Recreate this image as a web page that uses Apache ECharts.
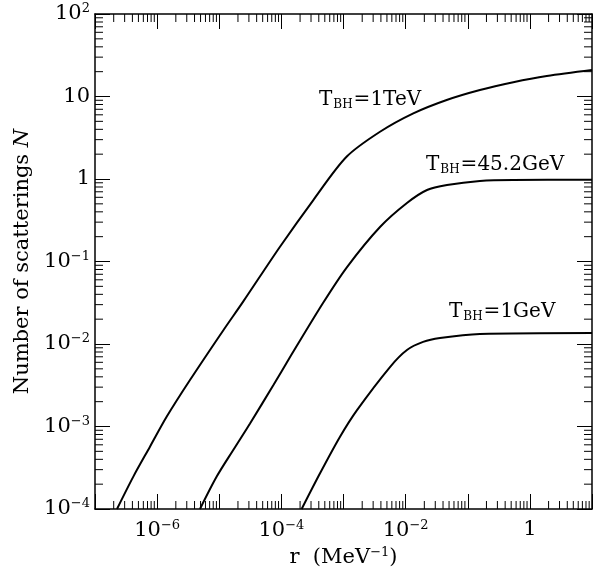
<!DOCTYPE html>
<html>
<head>
<meta charset="utf-8">
<script src="https://cdn.jsdelivr.net/npm/echarts@6/dist/echarts.min.js"></script>
<style>
html, body { margin: 0; padding: 0; background: #fff; }
#chart { width: 608px; height: 570px; }
</style>
</head>
<body>
<div id="chart"></div>
<script>
// curve readings: r (MeV^-1) and number of scatterings
var rTeV = [2.26e-7, 4.14e-7, 7.67e-7, 1.43e-6, 3.38e-6, 1.15e-5, 2.41e-5, 9.5e-5, 3.27e-4, 1.12e-3, 3.87e-3, 1.33e-2, 4.58e-2, 0.157, 0.541, 1.87, 10];
var nTeV = [1e-4, 2.47e-4, 5.69e-4, 1.32e-3, 3.66e-3, 1.45e-2, 3.24e-2, 0.151, 0.556, 1.86, 3.74, 6.25, 9.08, 12.0, 14.9, 17.7, 20.9];

var rMid = [4.9e-6, 9.1e-6, 1.68e-5, 3.13e-5, 7.41e-5, 1.38e-4, 4.68e-4, 1.14e-3, 3.87e-3, 1.05e-2, 2.21e-2, 4.63e-2, 0.157, 0.535, 10];
var nMid = [1e-4, 2.47e-4, 5.19e-4, 1.09e-3, 3.16e-3, 6.95e-3, 3.14e-2, 8.57e-2, 0.262, 0.512, 0.736, 0.845, 0.946, 0.973, 0.977];

var rGeV = [2.12e-4, 4.19e-4, 8.79e-4, 1.65e-3, 5.6e-3, 1.05e-2, 1.91e-2, 3.57e-2, 0.157, 10];
var nGeV = [1e-4, 2.71e-4, 7.52e-4, 1.58e-3, 5.26e-3, 8.45e-3, 1.06e-2, 1.18e-2, 1.32e-2, 1.36e-2];

var curveNames = ['1TeV', '45.2GeV', '1GeV'];

var X_MIN = 1e-7, X_MAX = 10;
var Y_MIN = 1e-4, Y_MAX = 100;
var FONT = 'DejaVu Serif';

function pairs(xs, ys) {
    var out = [];
    for (var i = 0; i < xs.length; i++) out.push([xs[i], ys[i]]);
    return out;
}

// minor tick values 2..9 in every decade
function minorValues(loExp, hiExp) {
    var out = [];
    for (var e = loExp; e < hiExp; e++) {
        for (var k = 2; k <= 9; k++) out.push(k * Math.pow(10, e));
    }
    return out;
}

function expLabel(v, every) {
    var e = Math.round(Math.log10(v));
    if (every === 2 && e % 2 !== 0) return '';
    if (e === 0) return '{b|1}';
    if (e === 1) return '{b|10}';
    return '{b|10}{s|' + (e < 0 ? '\u2212' + (-e) : e) + '}';
}

var supRich = {
    b: { fontFamily: FONT, fontSize: 21, color: '#000' },
    s: { fontFamily: FONT, fontSize: 13, color: '#000', padding: [0, 0, 10, 0] }
};
var subRich = {
    b: { fontFamily: FONT, fontSize: 20, color: '#000' },
    s: { fontFamily: FONT, fontSize: 12, color: '#000', padding: [9, 1, 0, 1] }
};

var MINOR_LEN = 8;
var lineStyle = { color: '#000', width: 1.5 };
// nudge for points sitting on the frame so they stay inside the axis extent
var EDGE = 1.001;

function tickSeries(data, size, offset) {
    return {
        type: 'scatter', data: data, z: 5,
        symbol: 'rect', symbolSize: size, symbolOffset: offset,
        itemStyle: { color: 'black', opacity: 1 },
        emphasis: { disabled: true }
    };
}

var xMinor = minorValues(-7, 1);
var yMinor = minorValues(-4, 2);

var chart = echarts.init(document.getElementById('chart'));

var option = {
    animation: false,
    grid: { left: 95, top: 14, right: 16, bottom: 61, outerBoundsMode: 'none' },
    xAxis: [
        {
            type: 'log', logBase: 10, min: X_MIN, max: X_MAX, position: 'bottom',
            name: '{b|r  (MeV}{s|\u22121}{b|)}', nameLocation: 'middle', nameGap: 35,
            nameTextStyle: { rich: supRich },
            axisLine: { lineStyle: lineStyle },
            axisTick: { inside: true, length: 15, lineStyle: { color: '#000', width: 1 } },
            axisLabel: { margin: 10, formatter: function (v) { return expLabel(v, 2); }, rich: supRich },
            splitLine: { show: false }
        },
        {
            type: 'log', logBase: 10, min: X_MIN, max: X_MAX, position: 'top',
            axisLine: { lineStyle: lineStyle },
            axisTick: { inside: true, length: 15, lineStyle: { color: '#000', width: 1 } },
            axisLabel: { show: false },
            splitLine: { show: false }
        }
    ],
    yAxis: [
        {
            type: 'log', logBase: 10, min: Y_MIN, max: Y_MAX, position: 'left',
            name: '{n|Number of scatterings }{i|N}', nameLocation: 'middle', nameGap: 51,
            nameTextStyle: {
                rich: {
                    n: { fontFamily: FONT, fontSize: 21, color: '#000' },
                    i: { fontFamily: FONT, fontSize: 21, fontStyle: 'italic', color: '#000' }
                }
            },
            axisLine: { lineStyle: lineStyle },
            axisTick: { inside: true, length: 15, lineStyle: { color: '#000', width: 1 } },
            axisLabel: { margin: 5, formatter: function (v) { return expLabel(v, 1); }, rich: supRich },
            splitLine: { show: false }
        },
        {
            type: 'log', logBase: 10, min: Y_MIN, max: Y_MAX, position: 'right',
            axisLine: { lineStyle: lineStyle },
            axisTick: { inside: true, length: 15, lineStyle: { color: '#000', width: 1 } },
            axisLabel: { show: false },
            splitLine: { show: false }
        }
    ],
    graphic: [
        { type: 'text', left: 319, top: 90, style: { text: '{b|T}{s|BH}{b|=1TeV}', rich: subRich } },
        { type: 'text', left: 426, top: 155, style: { text: '{b|T}{s|BH}{b|=45.2GeV}', rich: subRich } },
        { type: 'text', left: 449, top: 302, style: { text: '{b|T}{s|BH}{b|=1GeV}', rich: subRich } }
    ],
    series: [
        {
            name: curveNames[0], type: 'line', data: pairs(rTeV, nTeV),
            showSymbol: false, smooth: 0.3,
            lineStyle: { color: '#000', width: 2 }
        },
        {
            name: curveNames[1], type: 'line', data: pairs(rMid, nMid),
            showSymbol: false, smooth: 0.3,
            lineStyle: { color: '#000', width: 2 }
        },
        {
            name: curveNames[2], type: 'line', data: pairs(rGeV, nGeV),
            showSymbol: false, smooth: 0.3,
            lineStyle: { color: '#000', width: 2 }
        },
        // minor ticks, bottom / top / left / right
        tickSeries(xMinor.map(function (v) { return [v, Y_MIN * EDGE]; }), [1, MINOR_LEN], [0, -MINOR_LEN / 2]),
        tickSeries(xMinor.map(function (v) { return [v, Y_MAX / EDGE]; }), [1, MINOR_LEN], [0, MINOR_LEN / 2]),
        tickSeries(yMinor.map(function (v) { return [X_MIN * EDGE, v]; }), [MINOR_LEN, 1], [MINOR_LEN / 2, 0]),
        tickSeries(yMinor.map(function (v) { return [X_MAX / EDGE, v]; }), [MINOR_LEN, 1], [-MINOR_LEN / 2, 0])
    ]
};

chart.setOption(option);
</script>
</body>
</html>
